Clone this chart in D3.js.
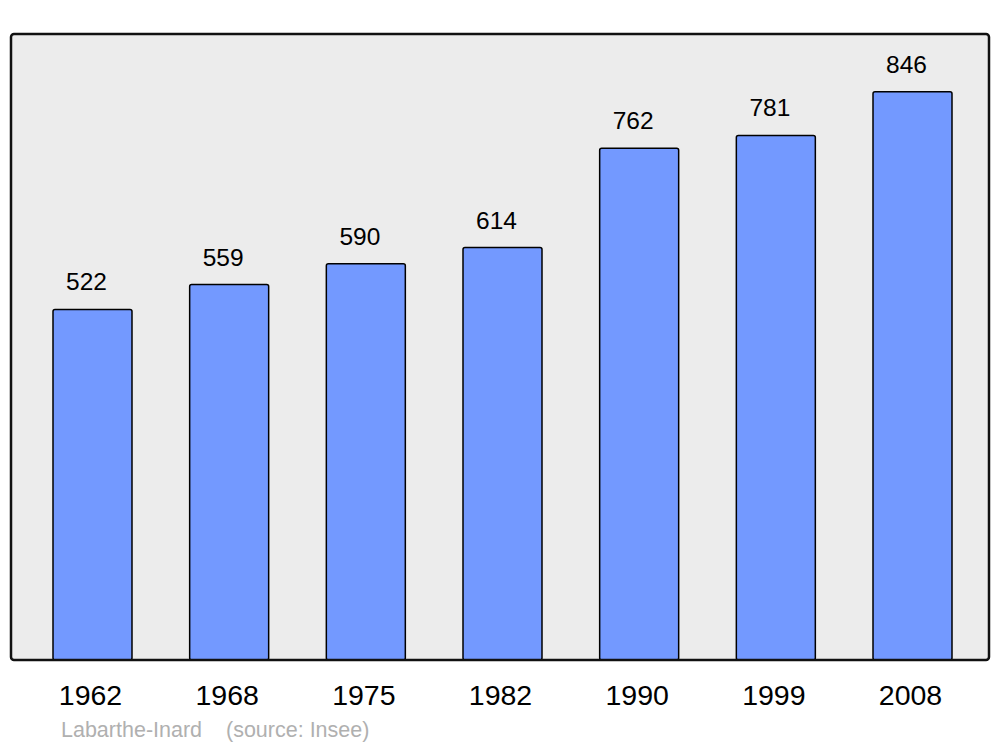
<!DOCTYPE html>
<html><head><meta charset="utf-8">
<script src="https://cdn.jsdelivr.net/npm/d3@7"></script>
<style>html,body{margin:0;padding:0;background:#fff;}svg{display:block;}</style>
</head><body>
<svg id="chart" width="1000" height="747"></svg>
<script>
const years = ["1962","1968","1975","1982","1990","1999","2008"];
const population = [522,559,590,614,762,781,846];
const caption = "Labarthe-Inard";
const source = "(source: Insee)";
const yMax = 932;

const svg = d3.select("#chart");
const frame = {x0: 11, y0: 34, x1: 989, y1: 660};

svg.append("rect")
  .attr("x", frame.x0).attr("y", frame.y0)
  .attr("width", frame.x1 - frame.x0).attr("height", frame.y1 - frame.y0)
  .attr("rx", 3).attr("ry", 3)
  .attr("fill", "#ececec");

const x = d3.scaleBand().domain(years).range([53, 952]).paddingInner(0.422).paddingOuter(0);
const y = d3.scaleLinear().domain([0, yMax]).range([frame.y1, frame.y0]);

const data = years.map((yr, i) => ({year: yr, value: population[i]}));

svg.append("g").selectAll("rect").data(data).join("rect")
  .attr("x", d => x(d.year))
  .attr("y", d => y(d.value))
  .attr("width", x.bandwidth())
  .attr("height", d => y(0) - y(d.value))
  .attr("rx", 2).attr("ry", 2)
  .attr("fill", "#7399ff")
  .attr("stroke", "#000")
  .attr("stroke-width", 1.5);

svg.append("g").selectAll("text").data(data).join("text")
  .attr("x", d => x(d.year) + x.bandwidth() / 2 - 6)
  .attr("y", d => y(d.value) - 19)
  .attr("text-anchor", "middle")
  .attr("font-family", "Liberation Sans, Arial, sans-serif")
  .attr("font-size", 24.5)
  .attr("fill", "#000")
  .text(d => d.value);

// frame border on top
svg.append("rect")
  .attr("x", frame.x0).attr("y", frame.y0)
  .attr("width", frame.x1 - frame.x0).attr("height", frame.y1 - frame.y0)
  .attr("rx", 3).attr("ry", 3)
  .attr("fill", "none")
  .attr("stroke", "#111")
  .attr("stroke-width", 2.5);

const xAxis = d3.axisBottom(x).tickSize(0).tickPadding(0);
const gx = svg.append("g").attr("transform", `translate(0, ${frame.y1})`).call(xAxis);
gx.select(".domain").remove();
gx.selectAll("text")
  .attr("dy", null)
  .attr("y", 45)
  .attr("x", -2)
  .attr("font-family", "Liberation Sans, Arial, sans-serif")
  .attr("font-size", 28.5)
  .attr("fill", "#000");

svg.append("text")
  .attr("x", 61).attr("y", 737)
  .attr("font-family", "Liberation Sans, Arial, sans-serif")
  .attr("font-size", 21.5)
  .attr("fill", "#b0b0b0")
  .text(caption);
svg.append("text")
  .attr("x", 226).attr("y", 737)
  .attr("font-family", "Liberation Sans, Arial, sans-serif")
  .attr("font-size", 21.5)
  .attr("fill", "#b0b0b0")
  .text(source);
</script>
</body></html>
